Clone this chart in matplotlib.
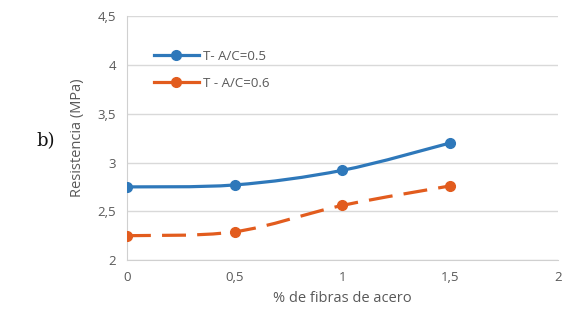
import numpy as np
import matplotlib
matplotlib.use("Agg")
import matplotlib.pyplot as plt
from matplotlib.path import Path
from matplotlib.patches import PathPatch
from matplotlib.lines import Line2D

# data
fibras = [0, 0.5, 1, 1.5]
ac_05 = [2.75, 2.77, 2.92, 3.20]
ac_06 = [2.25, 2.29, 2.56, 2.76]
series_names = ["T- A/C=0.5", "T - A/C=0.6"]
x_ticks = [0, 0.5, 1, 1.5, 2]
x_labels = ["0", "0,5", "1", "1,5", "2"]
y_ticks = [2, 2.5, 3, 3.5, 4, 4.5]
y_labels = ["2", "2,5", "3", "3,5", "4", "4,5"]

BLUE = "#2E78BA"
ORANGE = "#E25C1E"
GREY = "#595959"

plt.rcParams["font.family"] = ["Open Sans", "DejaVu Sans"]


def smooth_path(xs, ys, tension=1 / 6):
    # excel-like smoothed line: cubic bezier segments through the points
    pts = np.column_stack([xs, ys]).astype(float)
    verts = [pts[0]]
    codes = [Path.MOVETO]
    n = len(pts)
    for i in range(n - 1):
        p0 = pts[max(i - 1, 0)]
        p1 = pts[i]
        p2 = pts[i + 1]
        p3 = pts[min(i + 2, n - 1)]
        c1 = p1 + (p2 - p0) * tension
        c2 = p2 - (p3 - p1) * tension
        verts += [c1, c2, p2]
        codes += [Path.CURVE4] * 3
    return Path(verts, codes)


fig = plt.figure(figsize=(5.64, 3.10), dpi=100)
ax = fig.add_axes([0.225, 0.161, 0.764, 0.787])

for ys, col, ls in [(ac_05, BLUE, "-"), (ac_06, ORANGE, (0, (7.5, 3.5)))]:
    patch = PathPatch(smooth_path(fibras, ys), facecolor="none", edgecolor=col,
                      lw=2.3, linestyle=ls, zorder=3, capstyle="butt")
    ax.add_patch(patch)
    ax.plot(fibras, ys, "o", color=col, ms=7, zorder=4)

ax.set_xlim(0, 2)
ax.set_ylim(2, 4.5)
ax.set_xticks(x_ticks)
ax.set_xticklabels(x_labels)
ax.set_yticks(y_ticks)
ax.set_yticklabels(y_labels)
ax.tick_params(axis="both", length=0, labelsize=9.5, colors=GREY, pad=8)
ax.grid(axis="y", color="#D9D9D9", lw=1)
ax.set_axisbelow(True)
for s in ["top", "right"]:
    ax.spines[s].set_visible(False)
ax.spines["left"].set_color("#D0D0D0")
ax.spines["bottom"].set_color("#D0D0D0")

ax.set_xlabel("% de fibras de acero", fontsize=10.5, color=GREY, labelpad=5)
ax.set_ylabel("Resistencia (MPa)", fontsize=10.5, color=GREY, labelpad=9)

handles = [
    Line2D([], [], color=BLUE, lw=2.3, marker="o", ms=7),
    Line2D([], [], color=ORANGE, lw=2.3, marker="o", ms=7),
]
leg = ax.legend(handles, series_names, loc="upper left", bbox_to_anchor=(0.035, 0.91),
                frameon=False, fontsize=9.5, handlelength=3.4, labelspacing=1.05,
                handletextpad=0.35)
for t in leg.get_texts():
    t.set_color(GREY)

fig.text(0.064, 0.545, "b)", fontsize=13, family="DejaVu Serif", color="#111111",
         ha="left", va="center")

fig.savefig("out.png", dpi=100)
